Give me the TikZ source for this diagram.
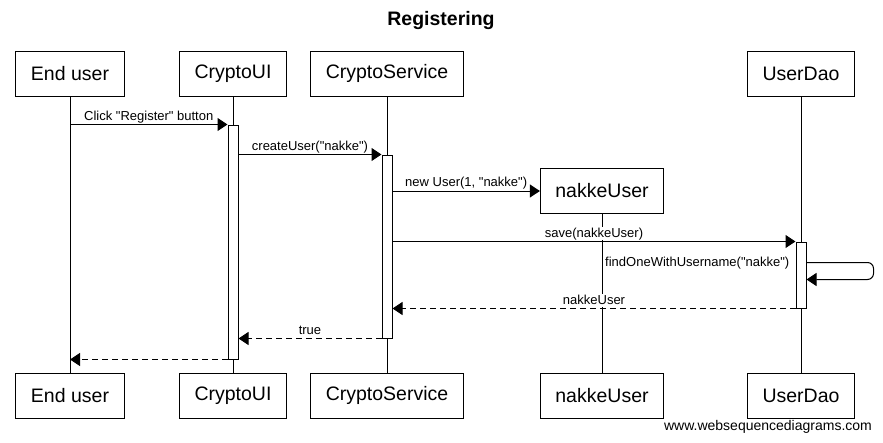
\documentclass[tikz,border=0pt]{standalone}
\usepackage{fontspec}
\setmainfont{Liberation Sans}
\usetikzlibrary{arrows.meta}
\newcommand{\dq}{\textquotedbl}
\tikzset{
  actor/.style={draw,line width=1pt,fill=white,inner xsep=15pt,minimum height=45pt,
    font=\fontsize{19.5}{23}\selectfont},
  bar/.style={draw,line width=1pt,fill=white,minimum width=10pt,inner sep=0pt},
  life/.style={line width=1pt},
  call/.style={line width=1pt,-{Triangle[length=10pt,width=13pt]}},
  ret/.style={call,dash pattern=on 6pt off 4pt},
  lbl/.style={font=\fontsize{13}{15}\selectfont,fill=white,inner xsep=1pt,inner ysep=0.5pt,
    text depth=2.5pt,anchor=south,yshift=1pt}
}
\begin{document}
\begin{tikzpicture}[x=1pt,y=-1pt]
	\useasboundingbox (0,0) rectangle (883,442);
	\node[font=\bfseries\fontsize{19.5}{23}\selectfont] (title) at (441,20) {Registering};
	% participants
	\node[actor] (eu) at (70,73.5) {End user};
	\node[actor] (ui) at (233,73.5) {CryptoUI};
	\node[actor] (cs) at (387,73.5) {CryptoService};
	\node[actor] (ud) at (801,73.5) {UserDao};
	\node[actor] (nu) at (602,191) {nakkeUser};
	\node[actor] (eu2) at (70,395.5) {End user};
	\node[actor] (ui2) at (233,395.5) {CryptoUI};
	\node[actor] (cs2) at (387,395.5) {CryptoService};
	\node[actor] (nu2) at (602,395.5) {nakkeUser};
	\node[actor] (ud2) at (801,395.5) {UserDao};
	% lifelines
	\draw[life] (eu) -- (eu2) (ui) -- (ui2) (cs) -- (cs2) (nu) -- (nu2) (ud) -- (ud2);
	% activations
	\node[bar,minimum height=234pt] (uibar) at (233,242) {};
	\node[bar,minimum height=183pt] (csbar) at (387,246.5) {};
	\node[bar,minimum height=66pt] (udbar) at (801,275) {};
	% messages
	\draw[call] (eu |- uibar.north) -- node[lbl]{Click \dq Register\dq{} button} (uibar.north west);
	\draw[call] (uibar.east |- csbar.north) -- node[lbl]{createUser(\dq nakke\dq)} (csbar.north west);
	\draw[call] (csbar.east |- nu.west) -- node[lbl]{new User(1, \dq nakke\dq)} (nu.west);
	\draw[call] (csbar.east |- udbar.north) -- node[lbl]{save(nakkeUser)} (udbar.north west);
	\coordinate (self) at ([yshift=-21pt]udbar.north east);
	\draw[call,rounded corners=6pt] (self) -- ++(67,0) -- ++(0,17) -- ++(-67,0);
	\node[lbl,anchor=east,yshift=0pt] (findlbl) at ([xshift=-5pt,yshift=-23pt]udbar.north west) {findOneWithUsername(\dq nakke\dq)};
	\draw[ret] (udbar.south west) -- node[lbl]{nakkeUser} (csbar.east |- udbar.south);
	\draw[ret] (csbar.south west) -- node[lbl]{true} (uibar.east |- csbar.south);
	\draw[ret] (uibar.south west) -- (eu |- uibar.south);
	\node[font=\fontsize{14}{17}\selectfont] (wsd) at (768,427) {www.websequencediagrams.com};
\end{tikzpicture}
\end{document}
